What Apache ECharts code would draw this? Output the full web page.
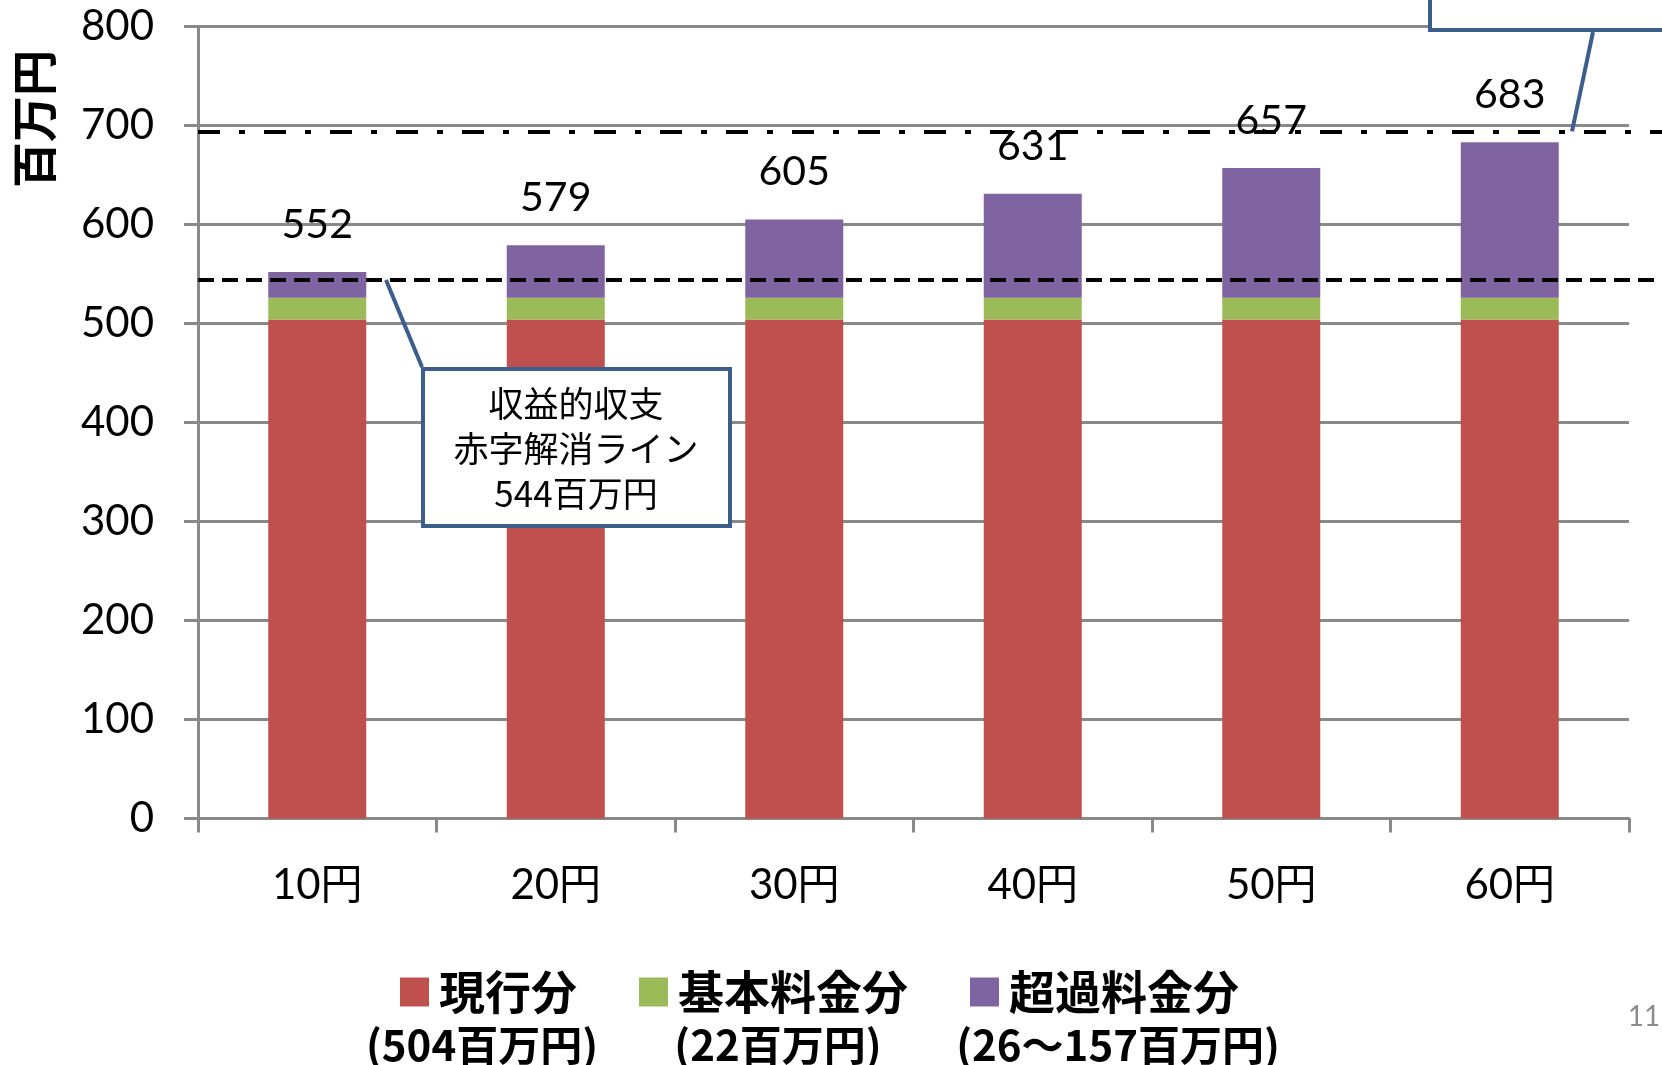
<!DOCTYPE html>
<html>
<head>
<meta charset="utf-8">
<title>収益的収支</title>
<script src="https://cdn.jsdelivr.net/npm/echarts@6/dist/echarts.min.js"></script>
<style>
  html, body { margin: 0; padding: 0; background: #fff; }
  #main { width: 1662px; height: 1065px; }
</style>
</head>
<body>
<div id="main"></div>
<script>
// 料金区分（カテゴリ）
var categories = ['10円', '20円', '30円', '40円', '50円', '60円'];
// 各内訳（百万円）
var genkoData = [504, 504, 504, 504, 504, 504];
var kihonData = [22, 22, 22, 22, 22, 22];
var chokaData = [26, 53, 79, 105, 131, 157];
// 目安ライン
var akajiLine = 544;
var upperLine = 694;
// 目盛り
var yMin = 0, yMax = 800, yStep = 100;
// 凡例の下段
var legendSub = ['(504百万円)', '(22百万円)', '(26～157百万円)'];

var numFont = 'Lato, "Noto Sans CJK JP", sans-serif';
var jpFont = '"Noto Sans CJK JP", sans-serif';
var gridGray = '#898989';
var boxBlue = '#3B5E8D';

var chart = echarts.init(document.getElementById('main'));

var gridPos = { left: 198, top: 26.5, bottom: 246.5 };

var option = {
  backgroundColor: '#fff',
  animation: false,
  color: ['#C0504D', '#9BBB59', '#8064A2'],
  grid: [
    { left: gridPos.left, right: 33, top: gridPos.top, bottom: gridPos.bottom },
    // 点線を図の右端まで伸ばすための補助グリッド
    { left: gridPos.left, right: 0, top: gridPos.top, bottom: gridPos.bottom }
  ],
  legend: {
    left: 395,
    top: 964,
    itemWidth: 29,
    itemHeight: 29,
    itemGap: 62,
    icon: 'rect',
    selectedMode: false,
    data: ['現行分', '基本料金分', '超過料金分'],
    textStyle: {
      fontFamily: jpFont,
      fontSize: 46,
      fontWeight: 'bold',
      color: '#000',
      padding: [0, 0, 0, 5]
    }
  },
  xAxis: [{
    type: 'category',
    gridIndex: 0,
    data: categories,
    axisLine: { lineStyle: { color: gridGray, width: 3 } },
    axisTick: { show: true, length: 14, lineStyle: { color: gridGray, width: 3 } },
    axisLabel: { fontFamily: numFont, fontSize: 42, color: '#000', margin: 46 }
  }, {
    type: 'value',
    gridIndex: 1,
    min: 0,
    max: 1,
    show: false
  }],
  yAxis: [{
    type: 'value',
    gridIndex: 0,
    min: yMin,
    max: yMax,
    interval: yStep,
    axisLine: { show: true, lineStyle: { color: gridGray, width: 3 } },
    axisTick: { show: true, length: 14, lineStyle: { color: gridGray, width: 3 } },
    splitLine: { show: true, lineStyle: { color: gridGray, width: 3 } },
    axisLabel: { fontFamily: numFont, fontSize: 42, color: '#000', margin: 44 }
  }, {
    type: 'value',
    gridIndex: 1,
    min: yMin,
    max: yMax,
    show: false
  }],
  series: [{
    name: '現行分',
    type: 'bar',
    stack: 'total',
    barWidth: 98,
    data: genkoData
  }, {
    name: '基本料金分',
    type: 'bar',
    stack: 'total',
    barWidth: 98,
    data: kihonData
  }, {
    name: '超過料金分',
    type: 'bar',
    stack: 'total',
    barWidth: 98,
    data: chokaData,
    label: {
      show: true,
      position: 'top',
      distance: 27,
      fontFamily: numFont,
      fontSize: 41,
      color: '#000',
      formatter: function (p) {
        var i = p.dataIndex;
        return genkoData[i] + kihonData[i] + chokaData[i];
      }
    }
  }, {
    // 目安ライン（マークラインのみ）
    name: 'lines',
    type: 'line',
    xAxisIndex: 1,
    yAxisIndex: 1,
    data: [],
    showSymbol: false,
    z: 5,
    markLine: {
      silent: true,
      symbol: ['none', 'none'],
      label: { show: false },
      data: [
        { yAxis: akajiLine, lineStyle: { color: '#000', width: 4, type: [16, 8] } },
        { yAxis: upperLine, lineStyle: { color: '#000', width: 4, type: [22, 19, 6, 19] } }
      ]
    }
  }]
};

chart.setOption(option);

// 吹き出しの線は目安ラインの位置から引く
var yAkaji = chart.convertToPixel({ yAxisIndex: 0 }, akajiLine);
var yUpper = chart.convertToPixel({ yAxisIndex: 0 }, upperLine);

var subCenters = [482, 778, 1118];

chart.setOption({
  graphic: [{
    type: 'text',
    rotation: Math.PI / 2,
    x: 34, y: 119,
    style: {
      text: '百万円',
      fontFamily: jpFont,
      fontSize: 46,
      fontWeight: 'bold',
      fill: '#000',
      align: 'center',
      verticalAlign: 'middle'
    },
    z: 10
  }, {
    type: 'line',
    shape: { x1: 386, y1: yAkaji, x2: 422, y2: 367 },
    style: { stroke: boxBlue, lineWidth: 4 },
    z: 10
  }, {
    type: 'rect',
    shape: { x: 423, y: 369, width: 307, height: 157 },
    style: { fill: '#fff', stroke: boxBlue, lineWidth: 4 },
    z: 10
  }, {
    type: 'text',
    x: 576, y: 449,
    style: {
      text: '収益的収支\n赤字解消ライン\n544百万円',
      fontFamily: jpFont,
      fontSize: 35,
      lineHeight: 45,
      fill: '#000',
      align: 'center',
      verticalAlign: 'middle'
    },
    z: 11
  }, {
    type: 'line',
    shape: { x1: 1593, y1: 32, x2: 1572, y2: yUpper },
    style: { stroke: boxBlue, lineWidth: 4 },
    z: 10
  }, {
    type: 'rect',
    shape: { x: 1430, y: -60, width: 300, height: 90 },
    style: { fill: '#fff', stroke: boxBlue, lineWidth: 4 },
    z: 10
  }, {
    type: 'text',
    x: subCenters[0], y: 1045,
    style: { text: legendSub[0], fontFamily: jpFont, fontSize: 42, fontWeight: 'bold', fill: '#000', align: 'center', verticalAlign: 'middle' }
  }, {
    type: 'text',
    x: subCenters[1], y: 1045,
    style: { text: legendSub[1], fontFamily: jpFont, fontSize: 42, fontWeight: 'bold', fill: '#000', align: 'center', verticalAlign: 'middle' }
  }, {
    type: 'text',
    x: subCenters[2], y: 1045,
    style: { text: legendSub[2], fontFamily: jpFont, fontSize: 42, fontWeight: 'bold', fill: '#000', align: 'center', verticalAlign: 'middle' }
  }, {
    type: 'text',
    x: 1644, y: 1017,
    style: { text: '11', fontFamily: numFont, fontSize: 28, fill: '#8c8c8c', align: 'center', verticalAlign: 'middle' }
  }]
});
</script>
</body>
</html>
